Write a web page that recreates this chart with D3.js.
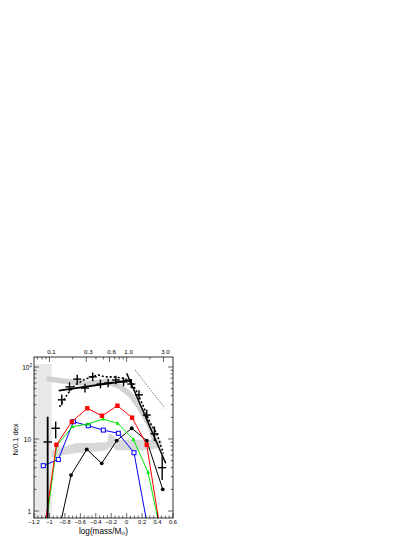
<!DOCTYPE html>
<html><head><meta charset="utf-8">
<script src="https://cdn.jsdelivr.net/npm/d3@7"></script>
<style>body{margin:0;background:#fff}svg{display:block}text{font-family:"Liberation Sans",Arial,sans-serif;fill:#000}</style>
</head><body>
<svg id="c" width="415" height="537"></svg>
<script>
// ---- data ----
const redX = [-1.11, -0.91, -0.71, -0.51, -0.32, -0.12, 0.07, 0.26, 0.46];
const redY = [0.26, 8.3, 17.4, 26.7, 21, 29, 19.8, 8.3, 0.37];
const greenX = [-1.11, -0.906, -0.704, -0.5, -0.306, -0.116, 0.086, 0.277, 0.477];
const greenY = [0.19, 8.07, 14.8, 16.2, 19, 16.5, 9.9, 3.45, 0.33];
const blueX = [-1.08, -0.885, -0.69, -0.497, -0.302, -0.108, 0.095, 0.295];
const blueY = [4.26, 5.2, 17.4, 15.3, 13.3, 12, 6.45, 0.44];
const blackX = [-0.92, -0.72, -0.517, -0.323, -0.129, 0.066, 0.26, 0.467];
const blackY = [0.33, 3.16, 7.2, 4.6, 9.5, 14.1, 9.5, 2.0];
const crossX = [-0.84, -0.74, -0.64, -0.54, -0.44, -0.34, -0.24, -0.14, -0.04, 0.06, 0.16, 0.26, 0.36, 0.46];
const crossY = [35, 53, 68, 51, 73, 58, 60, 66, 62, 58, 41, 21.5, 11.8, 4.0];
const crossErr = [0.075, 0.065, 0.06, 0.06, 0.06, 0.06, 0.06, 0.06, 0.06, 0.06, 0.065, 0.075, 0.1, 0.17];
const leftCrossX = [-1.023, -0.919];
const leftCrossY = [9.1, 14.1];
const leftCrossLo = [0.5, 10.2];
const leftCrossHi = [20.4, 17.4];
const fitX = [-0.88, 0.07];
const fitY = [47, 66];
const steepX = [0.0, 0.506];
const steepY = [82, 4.6];
const dashX = [-0.87, -0.76, -0.67, -0.54, -0.37, -0.28, -0.17, -0.02, 0.07, 0.13, 0.22, 0.30, 0.39, 0.475];
const dashY = [28, 43, 56, 67.6, 77.6, 73, 73, 69, 59, 45.7, 28, 17, 12, 6.3];
const dotX = [0.108, 0.497];
const dotY = [91, 26.7];
const upperBandX = [-1.04, -0.85, -0.52, -0.26, -0.09, 0.044, 0.13, 0.238, 0.325, 0.37];
const upperBandY = [69, 64.6, 58.9, 63, 53.7, 41.7, 31.6, 20.4, 13.3, 8.9];
const lowerBandX = [-0.97, -0.82, -0.65, -0.44, -0.25, -0.23, -0.19, -0.12, 0.26, 0.45];
const lowerBandLo = [5.5, 6.0, 6.4, 6.6, 7.0, 7.7, 7.7, 7.0, 7.0, 7.6];
const lowerBandHi = [7.0, 7.8, 8.8, 8.8, 9.1, 12, 11.5, 9.7, 9.7, 9.7];
const shadeX = [-1.2, -0.97];
const shadeY = [0.8, 110];
const xTicks = [-1.2, -1, -0.8, -0.6, -0.4, -0.2, 0, 0.2, 0.4, 0.6];
const xTickLabels = ["\u22121.2", "\u22121", "\u22120.8", "\u22120.6", "\u22120.4", "\u22120.2", "0", "0.2", "0.4", "0.6"];
const yTicks = [1, 10, 100];
const topMajor = [0.1, 0.3, 0.6, 1.0, 3.0];
const topLabels = ["0.1", "0.3", "0.6", "1.0", "3.0"];
const topMinor = [0.07, 0.08, 0.09, 0.2, 0.4, 0.5, 0.7, 0.8, 0.9, 2];

// ---- layout ----
const L = 34, R = 173, T = 357, B = 518;
const x = d3.scaleLinear().domain([-1.2, 0.6]).range([L, R]);
const y = d3.scaleLog().domain([0.8, 137.7]).range([B, T]);
const svg = d3.select("#c");
svg.append("defs").append("clipPath").attr("id", "clip")
  .append("rect").attr("x", L).attr("y", T).attr("width", R - L).attr("height", B - T);
const g = svg.append("g").attr("clip-path", "url(#clip)");
const line = d3.line().x(d => x(d[0])).y(d => y(d[1]));
const zip = (a, b) => a.map((v, i) => [v, b[i]]);

// shaded region
g.append("rect").attr("x", x(shadeX[0])).attr("y", y(shadeY[1]))
  .attr("width", x(shadeX[1]) - x(shadeX[0])).attr("height", y(shadeY[0]) - y(shadeY[1]))
  .attr("fill", "#e8e8e8");
// lower band
const area = d3.area().x(d => x(d[0])).y0(d => y(d[1])).y1(d => y(d[2]));
g.append("path").datum(lowerBandX.map((v, i) => [v, lowerBandLo[i], lowerBandHi[i]]))
  .attr("d", area).attr("fill", "#d8d8d8");
// upper band
g.append("path").datum(zip(upperBandX, upperBandY)).attr("d", line)
  .attr("fill", "none").attr("stroke", "#d2d2d2").attr("stroke-width", 5.5).attr("stroke-linejoin", "round");

// colored series
function series(xs, ys, color, marker) {
  const d = zip(xs, ys);
  g.append("path").datum(d).attr("d", line).attr("fill", "none").attr("stroke", color).attr("stroke-width", 1);
  const vis = d.filter(p => p[1] >= 0.8);
  vis.forEach(p => {
    const cx = x(p[0]), cy = y(p[1]);
    if (marker === "fsq") g.append("rect").attr("x", cx - 2.2).attr("y", cy - 2.2).attr("width", 4.4).attr("height", 4.4).attr("fill", color);
    else if (marker === "osq") g.append("rect").attr("x", cx - 2).attr("y", cy - 2).attr("width", 4).attr("height", 4).attr("fill", "#fff").attr("stroke", color).attr("stroke-width", 1);
    else if (marker === "tri") g.append("path").attr("d", `M${cx},${cy - 2.2}L${cx + 2},${cy + 1.5}L${cx - 2},${cy + 1.5}Z`).attr("fill", color);
    else g.append("circle").attr("cx", cx).attr("cy", cy).attr("r", 1.9).attr("fill", color);
  });
}
series(blackX, blackY, "#000", "circ");
series(blueX, blueY, "#0000ff", "osq");
series(greenX, greenY, "#00e600", "tri");
series(redX, redY, "#ff0000", "fsq");

// dotted thin line
g.append("path").datum(zip(dotX, dotY)).attr("d", line).attr("fill", "none")
  .attr("stroke", "#000").attr("stroke-width", 0.7).attr("stroke-dasharray", "1,1.3");
// dashed thick line
g.append("path").datum(zip(dashX, dashY)).attr("d", line).attr("fill", "none")
  .attr("stroke", "#000").attr("stroke-width", 1.6).attr("stroke-dasharray", "2,2");
// fit lines
g.append("path").datum(zip(fitX, fitY)).attr("d", line).attr("fill", "none").attr("stroke", "#000").attr("stroke-width", 1.8);
g.append("path").datum(zip(steepX, steepY)).attr("d", line).attr("fill", "none").attr("stroke", "#000").attr("stroke-width", 1.5);

// crosses
crossX.forEach((cx, i) => {
  const cy = crossY[i], e = crossErr[i];
  g.append("line").attr("x1", x(cx - 0.052)).attr("x2", x(cx + 0.052)).attr("y1", y(cy)).attr("y2", y(cy)).attr("stroke", "#000").attr("stroke-width", 1.4);
  g.append("line").attr("x1", x(cx)).attr("x2", x(cx)).attr("y1", y(cy * Math.pow(10, -e))).attr("y2", y(cy * Math.pow(10, e))).attr("stroke", "#000").attr("stroke-width", 1.4);
});
leftCrossX.forEach((cx, i) => {
  const cy = leftCrossY[i];
  g.append("line").attr("x1", x(cx - 0.055)).attr("x2", x(cx + 0.055)).attr("y1", y(cy)).attr("y2", y(cy)).attr("stroke", "#000").attr("stroke-width", 1.4);
  g.append("line").attr("x1", x(cx)).attr("x2", x(cx)).attr("y1", y(leftCrossLo[i])).attr("y2", y(leftCrossHi[i])).attr("stroke", "#000").attr("stroke-width", i === 0 ? 1.8 : 1.4);
});

// frame
svg.append("rect").attr("x", L).attr("y", T).attr("width", R - L).attr("height", B - T)
  .attr("fill", "none").attr("stroke", "#000").attr("stroke-width", 0.8);

// y ticks (log), inward on both sides
const ax = svg.append("g").attr("stroke", "#000").attr("stroke-width", 0.6);
const yMinor = [];
[1, 10, 100].forEach(dec => { for (let k = 1; k <= 9; k++) { const v = dec * k; if (v >= 0.8 && v <= 137) yMinor.push(v); } });
yMinor.forEach(v => {
  const maj = yTicks.includes(v);
  const len = maj ? 5 : 2.5;
  ax.append("line").attr("x1", L).attr("x2", L + len).attr("y1", y(v)).attr("y2", y(v));
  ax.append("line").attr("x1", R).attr("x2", R - len).attr("y1", y(v)).attr("y2", y(v));
});
// x ticks
for (let v = -1.2; v <= 0.6001; v += 0.05) {
  const vv = Math.round(v * 100) / 100;
  const maj = Math.abs(Math.round(vv * 5) - vv * 5) < 1e-6;
  const len = maj ? 5 : 2.5;
  ax.append("line").attr("x1", x(vv)).attr("x2", x(vv)).attr("y1", B).attr("y2", B - len);
}
// top ticks (mass)
topMajor.forEach(m => ax.append("line").attr("x1", x(Math.log10(m))).attr("x2", x(Math.log10(m))).attr("y1", T).attr("y2", T + 5));
topMinor.forEach(m => ax.append("line").attr("x1", x(Math.log10(m))).attr("x2", x(Math.log10(m))).attr("y1", T).attr("y2", T + 2.5));

// labels
xTicks.forEach((v, i) => svg.append("text").attr("x", x(v)).attr("y", B + 6.3).attr("text-anchor", "middle")
  .attr("font-size", 5.8).text(xTickLabels[i]));
topMajor.forEach((m, i) => svg.append("text").attr("x", x(Math.log10(m)) + 2).attr("y", T - 3).attr("text-anchor", "middle")
  .attr("font-size", 6.2).text(topLabels[i]));
svg.append("text").attr("x", L - 3).attr("y", y(1) + 2.5).attr("text-anchor", "end").attr("font-size", 6.5).text("1");
svg.append("text").attr("x", L - 3).attr("y", y(10) + 2.5).attr("text-anchor", "end").attr("font-size", 6.5).text("10");
const t100 = svg.append("text").attr("x", L - 2).attr("y", y(100) + 2.5).attr("text-anchor", "end").attr("font-size", 6.5);
t100.append("tspan").text("10");
t100.append("tspan").attr("dy", -3).attr("font-size", 4.5).text("2");

svg.append("text").attr("transform", `translate(18,${(T + B) / 2 + 2}) rotate(-90)`).attr("text-anchor", "middle")
  .attr("font-size", 7.5).text("N/0.1 dex");
const xl = svg.append("text").attr("x", (L + R) / 2).attr("y", 533.5).attr("text-anchor", "middle").attr("font-size", 8.2);
xl.append("tspan").text("log(mass/M");
xl.append("tspan").attr("dy", 1.5).attr("font-size", 5.2).text("\u2299");
xl.append("tspan").attr("dy", -1.5).text(")");
</script>
</body></html>
